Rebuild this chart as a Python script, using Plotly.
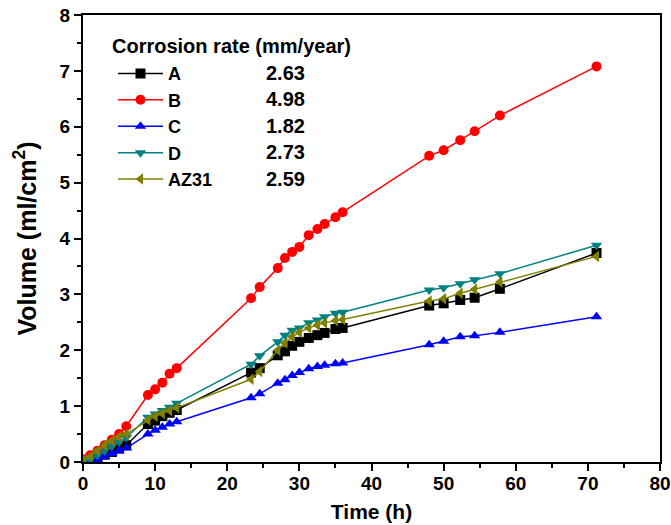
import plotly.graph_objects as go

# hydrogen evolution volume vs immersion time
time_h = [0, 1, 2, 3, 4, 5, 6, 9, 10, 11, 12, 13, 23.3, 24.5, 27, 28, 29, 30, 31.3, 32.5, 33.5,
          35, 36, 48, 50, 52.3, 54.3, 57.8, 71.2]

vol_a = [0, 0.04, 0.08, 0.13, 0.18, 0.24, 0.3, 0.68, 0.74, 0.82, 0.88, 0.93, 1.6, 1.68, 1.91, 1.98,
         2.08, 2.15, 2.22, 2.27, 2.31, 2.38, 2.4, 2.8, 2.84, 2.9, 2.94, 3.1, 3.74]
vol_b = [0.05, 0.12, 0.2, 0.3, 0.4, 0.5, 0.64, 1.2, 1.3, 1.42, 1.58, 1.68, 2.93, 3.13, 3.47, 3.65,
         3.76, 3.85, 4.06, 4.17, 4.26, 4.38, 4.47, 5.48, 5.58, 5.76, 5.92, 6.2, 7.08]
vol_c = [0, 0.02, 0.05, 0.1, 0.15, 0.2, 0.25, 0.5, 0.57, 0.62, 0.68, 0.72, 1.15, 1.22, 1.41, 1.47,
         1.55, 1.6, 1.67, 1.71, 1.73, 1.76, 1.77, 2.1, 2.16, 2.24, 2.26, 2.32, 2.6]
vol_d = [0, 0.05, 0.12, 0.2, 0.28, 0.36, 0.44, 0.8, 0.86, 0.92, 0.98, 1.05, 1.75, 1.9, 2.15, 2.27,
         2.36, 2.4, 2.49, 2.54, 2.6, 2.66, 2.68, 3.08, 3.12, 3.19, 3.26, 3.37, 3.88]
vol_az31 = [0.02, 0.1, 0.2, 0.3, 0.38, 0.45, 0.5, 0.75, 0.82, 0.87, 0.92, 0.97, 1.48, 1.62, 2.0, 2.13,
            2.24, 2.32, 2.4, 2.45, 2.49, 2.53, 2.55, 2.88, 2.92, 3.02, 3.09, 3.22, 3.68]

names = ["A", "B", "C", "D", "AZ31"]
rates = ["2.63", "4.98", "1.82", "2.73", "2.59"]
legend_title = "Corrosion rate (mm/year)"

series = [vol_a, vol_b, vol_c, vol_d, vol_az31]
colors = ["#000000", "#FF0000", "#0000FF", "#008080", "#808000"]
symbols = ["square", "circle", "triangle-up", "triangle-down", "triangle-left"]

FONT = "Liberation Sans, Arial, sans-serif"

fig = go.Figure()
for name, vals, col, sym in zip(names, series, colors, symbols):
    fig.add_trace(go.Scatter(x=time_h, y=vals, name=f"<b>{name}</b>", mode="lines+markers",
                             line=dict(color=col, width=1.5),
                             marker=dict(symbol=sym, size=10, color=col)))

# legend heading and the rate column next to the legend
fig.add_annotation(text=f"<b>{legend_title}</b>", xref="paper", yref="paper", x=0.047, y=0.931,
                   xanchor="left", yanchor="middle", showarrow=False,
                   font=dict(family=FONT, size=20, color="black"))
for i, r in enumerate(rates):
    fig.add_annotation(text=f"<b>{r}</b>", xref="paper", yref="paper", x=0.313, y=0.870 - i * 0.059,
                       xanchor="left", yanchor="middle", showarrow=False,
                       font=dict(family=FONT, size=20, color="black"))

axis_common = dict(showline=True, linecolor="black", linewidth=2, mirror=True, ticks="outside",
                   tickwidth=2, ticklen=7, tickcolor="black", showgrid=False, zeroline=False,
                   automargin=False, tickfont=dict(family=FONT, size=19, color="black"))

fig.update_xaxes(range=[0, 80], dtick=10, tick0=0,
                 minor=dict(dtick=5, ticks="outside", ticklen=4, tickwidth=2, tickcolor="black"),
                 title=dict(text="<b>Time (h)</b>", font=dict(family=FONT, size=21, color="black"), standoff=12),
                 ticklabelstandoff=-4,
                 tickprefix="<b>", ticksuffix="</b>", **axis_common)
fig.update_yaxes(range=[0, 8], dtick=1, tick0=0,
                 minor=dict(dtick=0.5, ticks="outside", ticklen=4, tickwidth=2, tickcolor="black"),
                 title=dict(text="<b>Volume (ml/cm<sup>2</sup>)</b>", font=dict(family=FONT, size=25, color="black"),
                            standoff=16),
                 tickprefix="<b>", ticksuffix="</b>", **axis_common)

fig.update_layout(
    width=671, height=525,
    margin=dict(l=83, r=11, t=15, b=63),
    plot_bgcolor="white", paper_bgcolor="white",
    legend=dict(x=0.052, y=0.910, xanchor="left", yanchor="top",
                font=dict(family=FONT, size=18, color="black"), bgcolor="rgba(0,0,0,0)",
                itemwidth=45, tracegroupgap=0),
)

fig.write_html("out.html", config={"displayModeBar": False},
               post_script="document.body.style.margin='0';")
